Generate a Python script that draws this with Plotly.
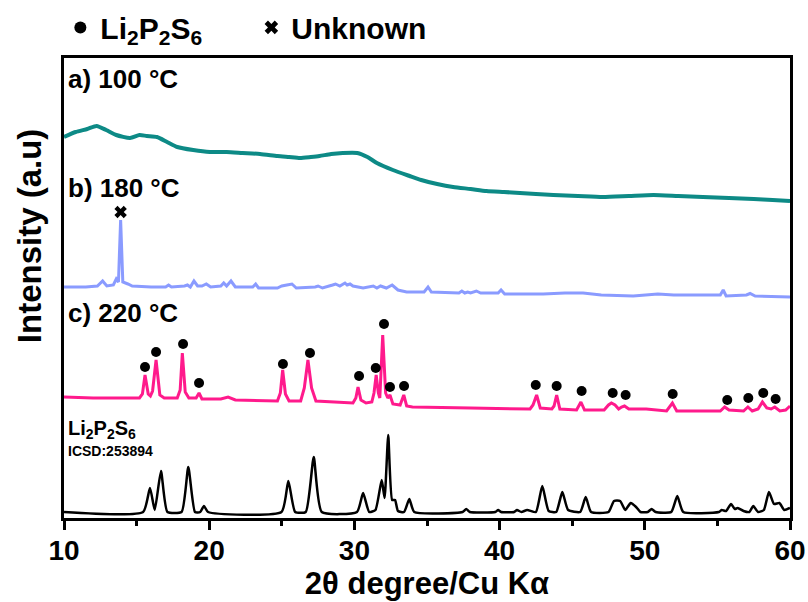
import plotly.graph_objects as go

# ---------------- data (y in a.u., stacked offsets) ----------------
a_x = [10, 10.8, 11.6, 12.25, 12.9, 13.6, 14.55, 15.2, 15.7, 16.4, 17.1, 17.8, 18.9, 20.05, 21.2,
       22.3, 23.5, 24.7, 25.5, 26.25, 27.0, 27.6, 28.4, 29.2, 30.2, 30.9, 31.55, 32.65, 33.8,
       34.6, 35.7, 36.8, 38.0, 39.1, 40.3, 41.4, 42.5, 43.7, 45.4, 47.1, 48.9, 50.6, 52.3, 54.0,
       55.8, 57.5, 58.8, 60]
a_y = [381, 386, 389, 392, 388, 383, 380, 383, 382, 381, 376, 371, 368, 366, 366,
       365, 364, 362, 361, 360, 361, 362, 364, 365, 365, 361, 355, 348, 342,
       338, 334, 331, 329, 327, 326, 325, 324, 323, 322, 321, 322, 323, 322, 321,
       320, 319, 318, 317]

b_x = [10, 11.5, 12.3, 12.66, 12.95, 13.4, 13.6, 13.75, 13.9, 14.05, 14.4, 14.7, 16.0, 17.0,
       17.2, 17.4, 18.3, 18.5, 18.7, 18.95, 19.2, 19.5, 19.8, 20.1, 20.8, 21.0, 21.2, 21.5, 21.8,
       23.0, 23.2, 23.4, 24.7, 25.0, 25.35, 25.7, 26.0, 27.3, 27.5, 27.8, 28.5, 28.7, 29.0, 29.35,
       29.5, 29.7, 29.9, 30.6, 31.3, 31.55, 31.8, 32.2, 32.6, 33.0, 33.6, 34.8, 35.07, 35.3, 37.2,
       37.4, 37.6, 37.8, 38.0, 38.4, 38.7, 39.9, 40.1, 40.35, 43.0, 44.5, 45.75, 47.0, 49.2, 50.9,
       52.0, 54.0, 55.2, 55.4, 55.6, 57.0, 57.25, 57.6, 60]
b_y = [231, 231, 232, 237, 232, 233, 239, 236, 298, 236, 234, 232, 231, 231,
       233, 231, 232, 233, 231, 237, 232, 232, 234, 231, 232, 235, 232, 237, 231,
       231, 234, 230, 230, 232, 233, 234, 230, 231, 232, 230, 233, 234, 232, 235,
       233, 234, 232, 230, 232, 230, 232, 230, 233, 228, 226, 226, 231, 226, 225,
       227, 225, 226, 225, 227, 225, 225, 228, 224, 224, 225, 225, 223, 222, 224,
       223, 223, 223, 228, 222, 223, 224.5, 222, 221]

c_x = [10, 12, 14, 15.2, 15.4, 15.58, 15.8, 15.95, 16.1, 16.34, 16.6, 16.9, 17.8, 18.0, 18.15,
       18.35, 18.6, 19.1, 19.3, 19.5, 20.8, 21.3, 21.8, 24.7, 24.9, 25.06, 25.25, 25.5, 26.3,
       26.55, 26.8, 27.05, 27.35, 29.9, 30.1, 30.25, 30.45, 30.8, 31.2, 31.35, 31.5, 31.65, 31.75,
       31.95, 32.15, 32.3, 32.45, 32.65, 33.15, 33.4, 33.6, 34, 38, 42.1, 42.3, 42.55, 42.8, 43.6,
       43.75, 43.93, 44.15, 45.3, 45.6, 45.85, 47.2, 47.5, 47.7, 47.95, 48.2, 48.4, 48.6, 48.9,
       50.1, 51.5, 51.9, 52.2, 55.2, 55.5, 55.8, 56.8, 57.1, 57.4, 57.8, 58.1, 58.4, 58.7, 58.95,
       59.3, 59.7, 60]
c_y = [121, 120, 120, 120, 124, 143, 124, 122, 127, 158, 123, 120, 120, 128, 165,
       126, 120, 120, 125, 119, 119, 121, 118, 117, 125, 148, 124, 117, 117,
       130, 158, 130, 117, 115, 120, 131, 118, 115, 116, 125, 143, 125, 120,
       183, 125, 120, 123, 114, 113, 123, 112, 111, 110, 109, 113, 123, 110, 109,
       112, 123, 109, 108, 116, 108, 108, 113, 115, 113, 109, 111, 112, 109,
       109, 107, 115, 107, 107, 111, 108, 107, 111, 107, 109, 116, 110, 109, 111,
       107, 108, 112]

ref_x = [10, 15.45, 15.92, 16.25, 16.68, 17.12, 18.1, 18.56, 19.02, 19.38, 19.64, 19.92, 24.98,
         25.45, 25.92, 26.65, 27.2, 27.75, 30.18, 30.6, 31.02, 31.45, 31.88, 32.08, 32.33, 32.6,
         32.8, 33.0, 33.42, 33.78, 34.12, 37.45, 37.7, 37.95, 39.7, 39.9, 40.1, 41.0, 41.2, 41.5,
         41.9, 42.5, 42.94, 43.38, 43.9, 44.32, 44.72, 45.55, 45.93, 46.3, 47.5, 47.88, 48.3, 48.65,
         49.03, 49.4, 49.7, 50.2, 50.47, 50.75, 51.82, 52.24, 52.65, 55.1, 55.3, 55.6, 55.94, 56.2,
         56.4, 56.8, 57.2, 57.47, 57.8, 58.2, 58.55, 58.9, 59.27, 59.6, 60]
ref_y = [6, 6, 30, 8, 47, 6, 6, 51, 6, 6, 12, 6, 6,
         37, 6, 6, 61, 6, 6, 25, 6, 8, 38, 20, 83, 18,
         18, 7, 6, 19, 6, 6, 9, 6, 6, 8, 6, 6, 8, 6,
         8, 6, 32, 7, 6, 26, 8, 6, 21, 6, 6, 17, 17, 8,
         15, 11, 6, 6, 9, 6, 6, 22, 6, 6, 8, 7, 14, 9,
         10, 7, 6, 12, 6, 8, 26, 14, 15, 8, 10]

dot_x = [15.58, 16.34, 18.2, 19.3, 25.08, 26.94, 30.32, 31.47, 32.04, 32.45, 33.42, 42.49, 43.93,
         45.65, 47.79, 48.68, 51.92, 55.68, 57.13, 58.16, 59.01]
dot_y = [151, 166, 174, 135, 154, 165, 142, 150, 194, 131, 132, 133, 132,
         127, 125, 123, 124, 118, 120, 125, 119]

unk_x = [13.9]
unk_y = [306]

x_ticks = [10, 20, 30, 40, 50, 60]

# ---------------- figure ----------------
fig = go.Figure()
fig.add_trace(go.Scatter(x=a_x, y=a_y, mode="lines", line=dict(color="#0d8a86", width=4, shape="spline", smoothing=0.6), showlegend=False))
fig.add_trace(go.Scatter(x=b_x, y=b_y, mode="lines", line=dict(color="#8a9bff", width=3), showlegend=False))
fig.add_trace(go.Scatter(x=c_x, y=c_y, mode="lines", line=dict(color="#ff1a8c", width=3), showlegend=False))
fig.add_trace(go.Scatter(x=ref_x, y=ref_y, mode="lines", line=dict(color="black", width=2.5, shape="spline", smoothing=0.5), showlegend=False))
fig.add_trace(go.Scatter(x=dot_x, y=dot_y, mode="markers", name="Li<sub>2</sub>P<sub>2</sub>S<sub>6</sub>",
                         marker=dict(symbol="circle", size=10, color="black")))
fig.add_trace(go.Scatter(x=unk_x, y=unk_y, mode="markers", name="Unknown",
                         marker=dict(symbol="x", size=11, color="black", line=dict(width=0))))

font_family = "Liberation Sans, Arial, sans-serif"

labels = [
    (10, 439, "a) 100 °C", 26),
    (10, 330, "b) 180 °C", 26),
    (10, 205, "c) 220 °C", 26),
    (10, 89, "Li<sub>2</sub>P<sub>2</sub>S<sub>6</sub>", 20),
    (10, 67, "ICSD:253894", 14),
]
for lx, ly, lt, ls in labels:
    fig.add_annotation(x=lx, y=ly, xref="x", yref="y", text=lt, showarrow=False, xanchor="left", yanchor="middle",
                       xshift=2, font=dict(family=font_family, size=ls, color="black", weight="bold"))

fig.add_annotation(x=-0.048, y=0.613, xref="paper", yref="paper", text="Intensity (a.u)", textangle=-90,
                   showarrow=False, xanchor="center", yanchor="middle",
                   font=dict(family=font_family, size=33, color="black", weight="bold"))

fig.update_layout(
    width=808, height=602,
    margin=dict(l=64, r=18, t=58, b=84, autoexpand=False),
    paper_bgcolor="white", plot_bgcolor="white",
    font=dict(family=font_family, color="black"),
    legend=dict(orientation="h", x=-0.005, y=1.01, xanchor="left", yanchor="bottom",
                font=dict(family=font_family, size=30, color="black", weight="bold"),
                bgcolor="rgba(0,0,0,0)", entrywidth=146, entrywidthmode="pixels",
                itemsizing="constant"),
    xaxis=dict(range=[10, 60], tickvals=x_ticks, ticks="outside", ticklen=9, tickwidth=2.5, tickcolor="black",
               showline=True, linewidth=2.5, linecolor="black", mirror=True, showgrid=False, zeroline=False,
               tickfont=dict(family=font_family, size=28, color="black", weight="bold"),
               ticklabelstandoff=-3, ticklabeloverflow="allow",
               minor=dict(tickvals=[15, 25, 35, 45, 55], ticks="outside", ticklen=5, tickwidth=2.5, tickcolor="black"),
               title=dict(text="2θ degree/Cu Kα", font=dict(family=font_family, size=31, color="black", weight="bold"), standoff=1)),
    yaxis=dict(range=[0, 460], showticklabels=False, ticks="", showline=True, linewidth=2.5, linecolor="black",
               mirror=True, showgrid=False, zeroline=False),
)

# remove the default page margin so the 808x602 figure fills the window exactly
fig.write_html("out.html", config={"displayModeBar": False},
               post_script="document.body.style.margin='0';document.body.style.overflow='hidden';")
